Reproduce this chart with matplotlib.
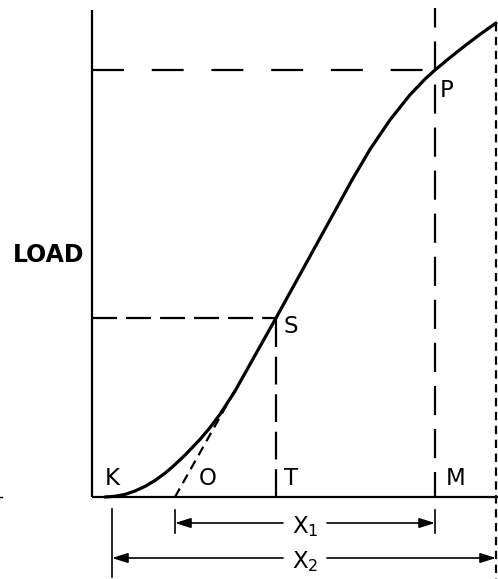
import matplotlib
matplotlib.use("Agg")
import matplotlib.pyplot as plt

plt.rcParams['lines.scale_dashes'] = False
plt.rcParams['font.family'] = ['DejaVu Sans']

# ---- data (diagram units, origin at axes corner) ----
extension = [13, 23, 33, 43, 53, 63, 73, 81, 93, 108, 118, 128, 143, 158,
             173, 184, 203, 223, 243, 260, 278, 298, 318, 333, 343, 358,
             373, 388, 404]
load = [0, 0.7, 2.6, 6.0, 10.6, 16.5, 23.8, 30.6, 41.9, 57.6, 69.4, 82.8,
        105.9, 132.7, 159.4, 179, 213.5, 249.8, 286.1, 317, 347.6, 377.1,
        402.2, 417.9, 427, 439.4, 451.3, 462.6, 474]

K_x = 20
O_x = 83
S_pt = (184, 179)
P_pt = (343, 427)
end_pt = (404, 474)
tangent_end = (146, 112)
axis_top = 487
axis_right = 406

point_labels = ["K", "O", "T", "M", "S", "P"]
ylabel = "LOAD"
dim_labels = ["X$_1$", "X$_2$"]

fig = plt.figure(figsize=(4.98, 5.79), dpi=100)
ax = fig.add_axes([0, 0, 1, 1])
ax.set_xlim(-92, 406)
ax.set_ylim(-82, 497)
ax.axis('off')

k = 'black'
# axes lines
ax.plot([0, 0], [0, axis_top], color=k, lw=1.6, solid_capstyle='butt')
ax.plot([0, axis_right], [0, 0], color=k, lw=1.6, solid_capstyle='butt')
ax.plot([-92, -90], [0, 0], color=k, lw=1.0)

# curve
ax.plot(extension, load, color=k, lw=2.3, solid_capstyle='round',
        solid_joinstyle='round', zorder=5)

# dashed guides
ax.plot([0, P_pt[0]], [P_pt[1], P_pt[1]], color=k, lw=1.6, ls=(0, (23, 20)))
ax.plot([P_pt[0], P_pt[0]], [0, 489], color=k, lw=1.6, ls=(3, (21, 10)))
ax.plot([0, S_pt[0]], [S_pt[1], S_pt[1]], color=k, lw=1.6, ls=(0, (18, 6.5)))
ax.plot([S_pt[0], S_pt[0]], [0, S_pt[1]], color=k, lw=1.6, ls=(0, (20, 7)))
ax.plot([end_pt[0], end_pt[0]], [end_pt[1], -82], color=k, lw=1.6, ls=(0, (6, 4)))
ax.plot([O_x, tangent_end[0]], [0, tangent_end[1]], color=k, lw=1.6, ls=(0, (7, 4.5)))

# letters
fs = 16.5
ax.text(K_x, 12, point_labels[0], fontsize=fs, ha='center', va='baseline')
ax.text(116, 12, point_labels[1], fontsize=fs, ha='center', va='baseline')
ax.text(199, 12, point_labels[2], fontsize=fs, ha='center', va='baseline')
ax.text(364, 12, point_labels[3], fontsize=fs, ha='center', va='baseline')
ax.text(199, 164, point_labels[4], fontsize=fs, ha='center', va='baseline')
ax.text(355, 400, point_labels[5], fontsize=fs, ha='center', va='baseline')
ax.text(-43, 235, ylabel, fontsize=17, fontweight='bold', ha='center', va='baseline')

# dimension lines
ax.plot([O_x, O_x], [-13, -36], color=k, lw=1.2)
ax.plot([P_pt[0], P_pt[0]], [-13, -36], color=k, lw=1.2)
ax.plot([K_x, K_x], [-12, -80], color=k, lw=1.2)

ap = dict(arrowstyle='-|>,head_length=0.95,head_width=0.3', color=k, lw=1.2,
          shrinkA=0, shrinkB=0, mutation_scale=10)
y1, y2 = -26, -61
ax.annotate('', xy=(O_x, y1), xytext=(191, y1), arrowprops=ap)
ax.annotate('', xy=(P_pt[0], y1), xytext=(235, y1), arrowprops=ap)
ax.annotate('', xy=(K_x, y2), xytext=(191, y2), arrowprops=ap)
ax.annotate('', xy=(end_pt[0], y2), xytext=(235, y2), arrowprops=ap)
ax.text(213, -36, dim_labels[0], fontsize=fs, ha='center', va='baseline')
ax.text(213, -71, dim_labels[1], fontsize=fs, ha='center', va='baseline')

fig.savefig('out.png', dpi=100)
